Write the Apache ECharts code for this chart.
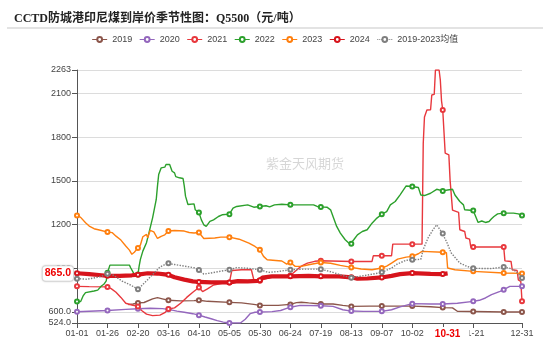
<!DOCTYPE html>
<html>
<head>
<meta charset="utf-8">
<script src="https://cdn.jsdelivr.net/npm/echarts@6/dist/echarts.min.js"></script>
<style>html,body{margin:0;padding:0;background:#fff}#c{width:550px;height:342px}</style>
</head>
<body>
<div id="c"></div>
<script>
// x categories: every day of a (leap) year, MM-DD
const categories = [];
for (let d = new Date(Date.UTC(2024, 0, 1)); d.getUTCFullYear() === 2024; d.setUTCDate(d.getUTCDate() + 1)) {
  categories.push(String(d.getUTCMonth() + 1).padStart(2, '0') + '-' + String(d.getUTCDate()).padStart(2, '0'));
}
const seriesNames = ['2019', '2020', '2021', '2022', '2023', '2024', '2019-2023均值'];

// values as [dayIndex, price]
const v2019 = [[42,650],[46,655],[50,662],[55,665],[62,690],[66,698],[70,690],[75,680],[85,676],[96,678],[100,680],[107,673],[125,666],[135,662],[145,652],[150,645],[165,645],[175,652],[180,664],[184,667],[190,662],[200,655],[210,655],[218,645],[225,638],[240,640],[250,640],[275,640],[290,636],[300,630],[308,628],[312,605],[325,603],[350,600],[365,600]];
const v2020 = [[0,601],[10,605],[25,610],[40,618],[50,622],[60,625],[70,623],[75,618],[82,606],[88,598],[95,588],[100,578],[105,565],[110,553],[115,540],[120,530],[125,524],[134,524],[138,550],[142,588],[146,598],[150,600],[160,602],[167,610],[172,625],[175,632],[183,645],[200,643],[210,638],[218,615],[225,606],[235,604],[250,604],[258,615],[265,635],[275,657],[290,655],[300,655],[312,660],[325,673],[330,680],[335,696],[340,719],[347,741],[350,753],[355,776],[365,776]];
const v2021 = [[0,776],[10,774],[25,772],[28,760],[32,735],[36,700],[40,660],[45,648],[50,638],[53,610],[57,585],[62,575],[68,578],[72,595],[75,620],[80,628],[85,660],[90,700],[95,735],[100,768],[103,740],[107,758],[112,785],[120,798],[125,803],[127,885],[135,890],[143,890],[145,822],[150,815],[160,842],[170,846],[175,850],[179,880],[184,915],[189,936],[195,948],[200,952],[225,947],[242,947],[243,986],[250,986],[258,986],[259,1066],[275,1066],[283,1066],[284,1760],[285,1940],[286,1942],[287,1988],[290,1990],[291,2091],[293,2095],[294,2263],[297,2263],[298,2194],[299,2050],[300,1988],[301,1839],[302,1691],[305,1680],[306,1508],[308,1300],[309,1290],[313,1285],[314,1165],[318,1153],[319,1108],[322,1100],[323,1046],[325,1046],[350,1046],[351,951],[356,947],[357,890],[361,885],[362,821],[364,810],[365,673]];
const v2022 = [[0,671],[3,672],[5,710],[7,733],[14,744],[17,750],[20,778],[22,790],[24,813],[25,870],[27,922],[43,922],[44,904],[47,858],[50,858],[51,916],[52,961],[54,1018],[57,1076],[59,1144],[62,1247],[63,1259],[65,1373],[66,1465],[67,1544],[69,1590],[72,1595],[73,1613],[76,1613],[77,1600],[78,1567],[80,1556],[81,1530],[84,1522],[87,1517],[88,1465],[89,1396],[91,1339],[96,1343],[97,1302],[100,1283],[102,1233],[104,1199],[106,1188],[109,1222],[112,1233],[116,1256],[119,1268],[125,1272],[128,1313],[131,1325],[140,1336],[145,1320],[150,1325],[155,1330],[158,1322],[162,1336],[168,1340],[175,1336],[185,1336],[194,1336],[197,1325],[200,1322],[205,1320],[208,1302],[210,1256],[213,1188],[216,1142],[220,1096],[224,1066],[225,1068],[227,1096],[230,1130],[234,1153],[238,1165],[242,1210],[246,1245],[250,1272],[254,1290],[257,1336],[261,1359],[265,1405],[270,1466],[275,1462],[280,1455],[282,1404],[285,1400],[290,1416],[295,1443],[300,1432],[304,1438],[308,1443],[310,1404],[314,1359],[317,1336],[318,1302],[325,1297],[327,1256],[329,1215],[332,1225],[335,1215],[338,1222],[340,1240],[342,1256],[345,1274],[350,1279],[358,1279],[362,1274],[365,1263]];
const v2023 = [[0,1263],[3,1250],[7,1213],[10,1190],[14,1172],[20,1160],[25,1149],[29,1145],[32,1121],[36,1094],[40,1053],[43,1025],[45,996],[47,1010],[49,1030],[50,1040],[52,1060],[54,1117],[57,1133],[58,1110],[60,1160],[63,1150],[66,1105],[69,1120],[72,1130],[75,1156],[80,1160],[88,1156],[92,1146],[96,1143],[100,1146],[104,1105],[113,1108],[118,1114],[125,1114],[133,1100],[141,1073],[146,1050],[150,1027],[153,982],[156,959],[163,954],[168,950],[172,929],[175,940],[179,913],[184,913],[190,924],[200,940],[208,935],[216,920],[225,906],[233,895],[242,890],[250,902],[254,915],[258,936],[263,963],[270,977],[275,982],[280,1000],[283,1016],[300,1010],[303,1008],[304,902],[310,890],[325,879],[350,868],[365,865]];
const v2024 = [[0,866],[10,860],[20,852],[25,848],[35,848],[45,852],[50,856],[58,866],[66,864],[72,858],[75,855],[80,838],[88,822],[95,810],[100,806],[110,803],[125,803],[132,812],[140,810],[148,814],[150,818],[152,836],[160,844],[175,845],[190,848],[200,845],[215,845],[225,838],[230,828],[238,830],[250,837],[258,848],[265,860],[275,867],[290,862],[300,860],[304,865]];
const vAvg = [[0,829],[8,825],[15,835],[20,845],[25,862],[30,852],[37,812],[44,785],[50,756],[54,788],[58,822],[63,865],[68,908],[74,934],[75,934],[80,926],[88,915],[96,904],[100,888],[104,860],[110,868],[118,880],[125,890],[131,905],[140,900],[150,890],[157,872],[165,878],[175,890],[185,894],[200,894],[210,872],[218,850],[225,835],[232,845],[240,856],[250,872],[258,902],[263,931],[270,955],[275,959],[282,962],[284,1030],[288,1110],[292,1165],[295,1199],[299,1150],[300,1140],[303,1085],[307,1005],[314,936],[320,913],[325,900],[340,898],[350,909],[355,900],[360,879],[365,833]];

const values = [v2019, v2020, v2021, v2022, v2023, v2024, vAvg];
const colors = ['#8c564b', '#9467bd', '#e8383d', '#2ca02c', '#ff7f0e', '#d7141c', '#7f7f7f'];
const pointerX = '10-31';
const pointerY = 865;

const chart = echarts.init(document.getElementById('c'), null, { renderer: 'canvas' });
const baseFont = 'Liberation Sans, "Noto Sans CJK SC", sans-serif';

const series = values.map((v, k) => ({
  name: seriesNames[k],
  type: 'line',
  data: v,
  symbol: 'emptyCircle',
  symbolSize: 4,
  showAllSymbol: 'auto',
  z: k === 6 ? 4 : (k === 5 ? 3 : 2),
  color: colors[k],
  itemStyle: { color: colors[k], borderWidth: 1 },
  lineStyle: { color: colors[k], width: k === 5 ? 4.2 : 1.4, type: k === 6 ? 'dotted' : 'solid' },
  emphasis: { disabled: true }
}));

chart.setOption({
  animation: false,
  backgroundColor: '#fff',
  textStyle: { fontFamily: baseFont },
  title: {
    text: 'CCTD防城港印尼煤到岸价季节性图：Q5500（元/吨）',
    left: 9, top: 8,
    textStyle: { fontSize: 12, fontWeight: 'bold', color: '#222', fontFamily: '"Liberation Serif", "Noto Sans CJK SC", serif' }
  },
  legend: {
    top: 30, left: 'center',
    itemWidth: 15, itemHeight: 6, itemGap: 7,
    textStyle: { fontSize: 9, color: '#444' },
    itemStyle: { borderWidth: 1 },
    lineStyle: { width: 1 },
    data: seriesNames
  },
  graphic: [
    { type: 'line', shape: { x1: 7, y1: 28, x2: 543, y2: 28 }, style: { stroke: '#c8c8c8', lineWidth: 1.2 }, silent: true },
    { type: 'text', x: 305, y: 163, style: { text: '紫金天风期货', fill: 'rgba(120,120,120,0.3)', font: '13px "Noto Sans CJK SC", sans-serif', textAlign: 'center', textVerticalAlign: 'middle' }, silent: true, z: 0 }
  ],
  grid: { left: 77, right: 28, top: 70, bottom: 19, containLabel: false, outerBoundsMode: 'none' },
  xAxis: {
    type: 'category',
    data: categories,
    boundaryGap: false,
    axisLine: { lineStyle: { color: '#555' } },
    axisTick: { lineStyle: { color: '#555' } },
    axisLabel: { interval: 24, showMaxLabel: true, fontSize: 9, color: '#444', margin: 6 },
    splitLine: { show: false },
    axisPointer: {
      show: true, type: 'line', value: categories.indexOf(pointerX), status: 'show', snap: false, triggerTooltip: false,
      lineStyle: { opacity: 0 },
      label: { show: true, color: '#e00', fontWeight: 'bold', fontSize: 10, backgroundColor: '#fff', padding: [2, 9], margin: 4, shadowBlur: 0, borderWidth: 0,
        formatter: () => pointerX }
    }
  },
  yAxis: {
    type: 'value',
    min: 524, max: 2263,
    axisLine: { show: true, lineStyle: { color: '#555' } },
    axisTick: { show: true, lineStyle: { color: '#555' } },
    axisLabel: { fontSize: 9, color: '#444', margin: 6, formatter: v => (v <= 600 ? v.toFixed(1) : String(v)) },
    splitLine: { lineStyle: { color: '#dcdcdc' } },
    axisPointer: {
      show: true, type: 'line', value: pointerY, status: 'show', snap: false, triggerTooltip: false,
      lineStyle: { opacity: 0 },
      label: { show: true, color: '#e00', fontWeight: 'bold', fontSize: 10.5, backgroundColor: '#fff', padding: [2, 2], margin: 4,
        borderColor: '#ddd', borderWidth: 1, shadowBlur: 2, shadowColor: 'rgba(0,0,0,0.15)',
        formatter: p => Number(p.value).toFixed(1) }
    }
  },
  series: series
});
</script>
</body>
</html>
